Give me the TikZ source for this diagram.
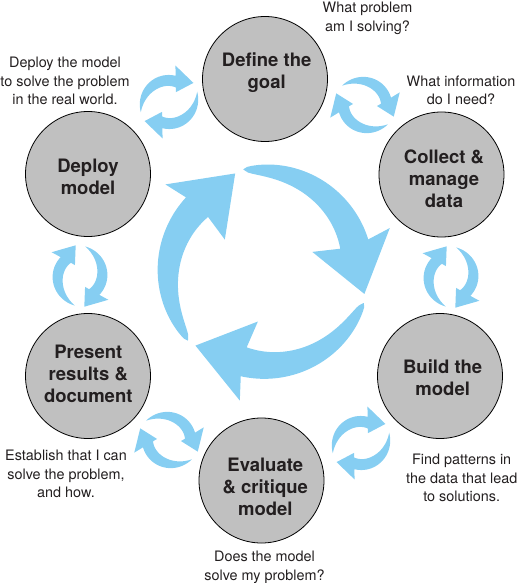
\documentclass[tikz,border=0pt]{standalone}
\usepackage{fontspec}
\setmainfont{TeX Gyre Heros}
\definecolor{ablue}{RGB}{134,206,242}
\definecolor{cgray}{RGB}{192,192,192}
\definecolor{ink}{RGB}{35,31,32}
\newcommand\bigarr[1]{%
  \fill[ablue] plot[domain=0:1,samples=40] ({#1+85*\x}:{104+4*sqrt(sqrt(\x))})
    -- ({#1+83}:132) -- ({#1+115}:102) -- ({#1+80}:51) -- ({#1+85.5}:78.5)
    -- plot[domain=1:0,samples=40] ({#1+85.5*\x}:{104-25.5*sqrt(\x)}) -- cycle;}
\newcommand\smallpair[3]{%
  \begin{scope}[shift={(#1,#2)}]
    \foreach \k in {0,180}{%
      \pgfmathsetmacro\smang{#3-90+\k}%
      \fill[ablue] plot[domain=0:1,samples=25] ({\smang+10+124.3*\x}:{27+3*(1-\x)*(1-\x)})
        -- ({\smang+130}:37) -- ({\smang+172}:31) -- ({\smang+155}:12)
        -- ({\smang+145.5}:16)
        -- plot[domain=1:0,samples=25] ({\smang+10+135.5*\x}:{16+14*(1-\x)*(1-\x)*(1-\x)}) -- cycle;
    }
  \end{scope}}
\tikzset{
  stage/.style={circle, draw=black, line width=0.8pt, fill=cgray, minimum size=125pt, inner sep=0pt},
  stagetext/.style={anchor=north, inner sep=0pt, align=center, text=ink,
    font=\bfseries\fontsize{18.5}{22}\selectfont},
  note/.style={anchor=north, inner sep=0pt, align=center, text=ink,
    font=\fontsize{14.4}{18.7}\selectfont}
}
\begin{document}
\begin{tikzpicture}[x=1pt,y=-1pt]
\useasboundingbox (0,0) rectangle (518,583);
\begin{scope}[shift={(265,271)}]
  \bigarr{258}
  \bigarr{18}
  \bigarr{138}
\end{scope}
\smallpair{365}{105}{300}
\smallpair{451}{277}{0}
\smallpair{361}{443}{60}
\smallpair{169}{440}{120}
\smallpair{80}{276}{180}
\smallpair{169}{102}{240}
\node[stage] (define) at (265,79) {};
\node[stage] (collect) at (441.5,174.5) {};
\node[stage] (deploy) at (88,174) {};
\node[stage] (build) at (440,376) {};
\node[stage] (present) at (88,376) {};
\node[stage] (evaluate) at (261.5,480.5) {};
\node[stagetext] (tdefine) at (266.7,53) {Define the\\goal};
\node[stagetext] (tcollect) at (444,150) {Collect \&\\manage\\data};
\node[stagetext] (tdeploy) at (88,159) {Deploy\\model};
\node[stagetext] (tbuild) at (442.7,360) {Build the\\model};
\node[stagetext] (tpresent) at (88.3,345) {Present\\results \&\\document};
\node[stagetext] (tevaluate) at (265.3,458.3) {Evaluate\\\& critique\\model};
\node[note] (ndefine) at (367.5,1.8) {What problem\\am I solving?};
\node[note] (ncollect) at (461,75.5) {What information\\do I need?};
\node[note] (ndeploy) at (65,56.8) {Deploy the model\\to solve the problem\\in the real world.};
\node[note] (nbuild) at (461.7,453.8) {Find patterns in\\the data that lead\\to solutions.};
\node[note] (npresent) at (66,449.8) {Establish that I can\\solve the problem,\\and how.};
\node[note] (nevaluate) at (264.5,550.8) {Does the model\\solve my problem?};
\end{tikzpicture}
\end{document}
